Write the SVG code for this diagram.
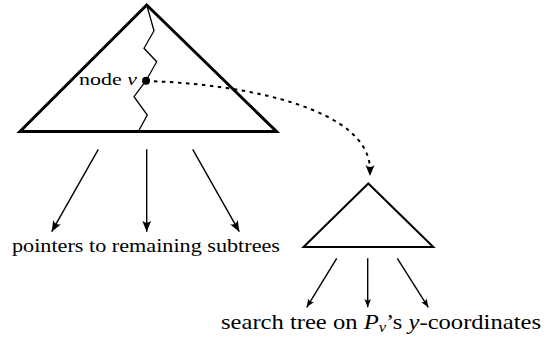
<svg xmlns="http://www.w3.org/2000/svg" width="551" height="342" viewBox="0 0 551 342">
<defs>
<style>
.tri{fill:none;stroke:#000;stroke-linejoin:miter}
.arr{fill:none;stroke:#000;stroke-width:1.4}
.txt{font-family:"Liberation Serif","DejaVu Serif",serif;fill:#000}
</style>
<marker id="ah" viewBox="-12 -6 13 12" markerWidth="13" markerHeight="12" refX="0" refY="0" orient="auto" markerUnits="userSpaceOnUse">
<path d="M0,0 L-11,-4.5 Q-7,0 -11,4.5 Z" fill="#000"/>
</marker>
<marker id="ahs" viewBox="-12 -6 13 12" markerWidth="11" markerHeight="10" refX="0" refY="0" orient="auto" markerUnits="userSpaceOnUse">
<path d="M0,0 L-10,-4 Q-6.5,0 -10,4 Z" fill="#000"/>
</marker>
</defs>
<g id="big-tree">
<polygon class="tri" points="146.7,5 20,131.5 276.5,131.5" stroke-width="3"/>
<polyline fill="none" stroke="#000" stroke-width="1.3" points="146.7,5 154,30.7 144,48.3 156.7,61.7 146,80.7 134,96.7 147.3,115 138.3,131.5"/>
</g>
<g id="node-v">
<circle cx="146" cy="80.7" r="4" fill="#000"/>
<text class="txt" x="79" y="85" font-size="17" textLength="58" lengthAdjust="spacingAndGlyphs">node <tspan font-style="italic">v</tspan></text>
</g>
<g id="small-tree">
<polygon class="tri" points="368.3,183.5 303.5,247 433.3,247" stroke-width="2"/>
</g>
<g id="connectors">
<path d="M146,81 C250,84 370,110 370,170" fill="none" stroke="#000" stroke-width="2" stroke-dasharray="3.5 4.5"/>
<path d="M370,166 L370,176" fill="none" stroke="none" marker-end="url(#ah)"/>
<line class="arr" x1="98.3" y1="149.3" x2="51.7" y2="231.7" marker-end="url(#ah)"/>
<line class="arr" x1="146.7" y1="149.3" x2="146.7" y2="231.7" marker-end="url(#ah)"/>
<line class="arr" x1="192.7" y1="149.3" x2="239.3" y2="231.7" marker-end="url(#ah)"/>
<line class="arr" stroke-width="1.1" x1="336.7" y1="258.3" x2="306.7" y2="307.3" marker-end="url(#ahs)"/>
<line class="arr" stroke-width="1.1" x1="367.7" y1="258.3" x2="367.7" y2="307.3" marker-end="url(#ahs)"/>
<line class="arr" stroke-width="1.1" x1="397.3" y1="258.3" x2="428.3" y2="307.3" marker-end="url(#ahs)"/>
</g>
<g id="labels">
<text class="txt" x="12" y="252" font-size="19" textLength="268" lengthAdjust="spacingAndGlyphs">pointers to remaining subtrees</text>
<text class="txt" x="221" y="329" font-size="21" textLength="320" lengthAdjust="spacingAndGlyphs">search tree on <tspan font-style="italic">P</tspan><tspan font-style="italic" font-size="14" dy="3">v</tspan><tspan dy="-3">’s </tspan><tspan font-style="italic">y</tspan>-coordinates</text>
</g>
</svg>
